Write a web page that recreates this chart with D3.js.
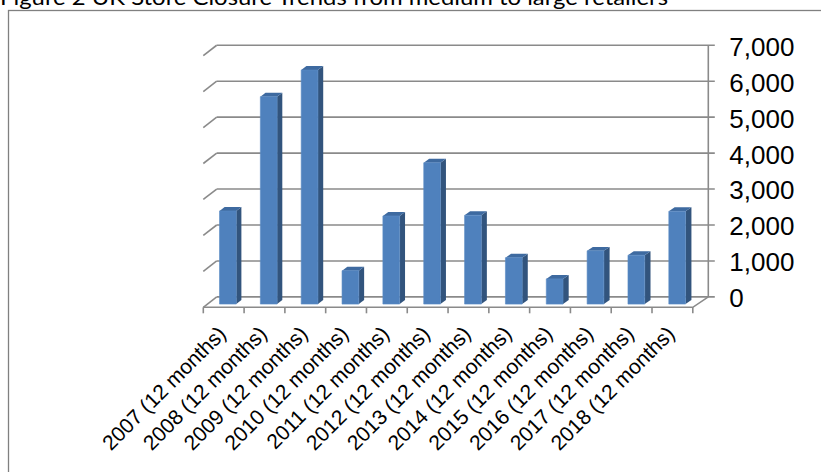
<!DOCTYPE html>
<html>
<head>
<meta charset="utf-8">
<script src="https://cdn.jsdelivr.net/npm/d3@7/dist/d3.min.js"></script>
<style>
  html, body { margin: 0; padding: 0; background: #fff; }
  svg { display: block; }
</style>
</head>
<body>
<script>
// ---- data ----
const title = "Figure 2 UK Store Closure Trends from medium to large retailers";
const categories = [
  "2007 (12 months)", "2008 (12 months)", "2009 (12 months)", "2010 (12 months)",
  "2011 (12 months)", "2012 (12 months)", "2013 (12 months)", "2014 (12 months)",
  "2015 (12 months)", "2016 (12 months)", "2017 (12 months)", "2018 (12 months)"
];
const closures = [2590, 5770, 6510, 930, 2450, 3930, 2470, 1290, 700, 1480, 1360, 2580];
const yTicks = [0, 1000, 2000, 3000, 4000, 5000, 6000, 7000];

// ---- layout ----
const W = 821, H = 472;
const svg = d3.select("body").append("svg").attr("width", W).attr("height", H);

// front plane band scale, back plane linear mapping
const frontL = 203.3, frontR = 692.8, backL = 216.7, backR = 708.3;
const x = d3.scaleBand().domain(categories).range([frontL, frontR]).paddingInner(0.59).paddingOuter(0.295);
const toBack = d3.scaleLinear().domain([frontL, frontR]).range([backL, backR]);
const y = d3.scaleLinear().domain([0, 7000]).range([307.3, 55.65]);
const DY = -10.4;
// project front-plane x, value, depth z (0 front .. 1 back)
function P(u, v, z) {
  return [u + z * (toBack(u) - u), y(v) + z * DY];
}
const fmt = d3.format(",");

// title (partially clipped at top)
svg.append("text")
  .attr("x", 0).attr("y", 5)
  .attr("font-family", "Lato")
  .attr("font-size", 22)
  .attr("fill", "#000")
  .attr("textLength", 668)
  .attr("lengthAdjust", "spacingAndGlyphs")
  .text(title);

// chart border
svg.append("rect")
  .attr("x", 8.5).attr("y", 10.5).attr("width", 1000).attr("height", 1000)
  .attr("fill", "none").attr("stroke", "#808080").attr("stroke-width", 1.3);

const gridColor = "#8a8a8a";
const g = svg.append("g");

// back wall gridlines + right ticks
yTicks.forEach(v => {
  const a = P(frontL, v, 1), b = P(frontR, v, 1);
  g.append("line").attr("x1", a[0]).attr("y1", a[1]).attr("x2", b[0] + 6.5).attr("y2", b[1])
    .attr("stroke", gridColor).attr("stroke-width", 1.6);
  // left side-wall diagonal
  const c = P(frontL, v, 0);
  g.append("line").attr("x1", a[0]).attr("y1", a[1]).attr("x2", c[0]).attr("y2", c[1])
    .attr("stroke", gridColor).attr("stroke-width", 1.6);
});
// right wall vertical
{
  const a = P(frontR, 0, 1), b = P(frontR, 7000, 1);
  g.append("line").attr("x1", a[0]).attr("y1", a[1]).attr("x2", b[0]).attr("y2", b[1])
    .attr("stroke", gridColor).attr("stroke-width", 1.6);
}
// floor edges
{
  const fl = P(frontL, 0, 0), fr = P(frontR, 0, 0), br = P(frontR, 0, 1);
  g.append("polyline").attr("points", [fl, fr, br].map(p => p.join(",")).join(" "))
    .attr("fill", "none").attr("stroke", gridColor).attr("stroke-width", 1.6);
}
// bottom ticks
const tickXs = categories.map(c => x(c) - x.step() * x.paddingInner() / 2).concat([frontR]);
tickXs.forEach(t => {
  g.append("line").attr("x1", t).attr("y1", y(0)).attr("x2", t).attr("y2", y(0) + 6)
    .attr("stroke", gridColor).attr("stroke-width", 1.6);
});

// bars
const z0 = 0.31, z1 = 0.69;
const bars = svg.append("g");
categories.forEach((c, i) => {
  const v = closures[i];
  const xl = x(c), xr = x(c) + x.bandwidth();
  const fTL = P(xl, v, z0), fTR = P(xr, v, z0), fBR = P(xr, 0, z0), fBL = P(xl, 0, z0);
  const bTL = P(xl, v, z1), bTR = P(xr, v, z1), bBR = P(xr, 0, z1);
  const pts = arr => arr.map(p => p.join(",")).join(" ");
  // side
  bars.append("polygon").attr("points", pts([fTR, bTR, bBR, fBR])).attr("fill", "#32547D");
  // top
  bars.append("polygon").attr("points", pts([fTL, bTL, bTR, fTR])).attr("fill", "#3E6AA0");
  // front
  bars.append("polygon").attr("points", pts([fTL, fTR, fBR, fBL])).attr("fill", "#4F81BD")
    .attr("stroke", "#5B8BC4").attr("stroke-width", 0.6);
});

// y labels (right)
yTicks.forEach(v => {
  const p = P(frontR, v, 1);
  svg.append("text")
    .attr("x", 729.3).attr("y", p[1]).attr("dy", "0.4em")
    .attr("font-family", "Liberation Sans, Arial, sans-serif")
    .attr("font-size", 26).attr("fill", "#000")
    .text(fmt(v));
});

// x labels rotated
categories.forEach(c => {
  const cx = x(c) + x.bandwidth() / 2;
  svg.append("text")
    .attr("transform", `translate(${cx + 3.6},${335}) rotate(-45)`)
    .attr("text-anchor", "end")
    .attr("font-family", "Liberation Sans, Arial, sans-serif")
    .attr("font-size", 21).attr("fill", "#000")
    .text(c);
});
</script>
</body>
</html>
